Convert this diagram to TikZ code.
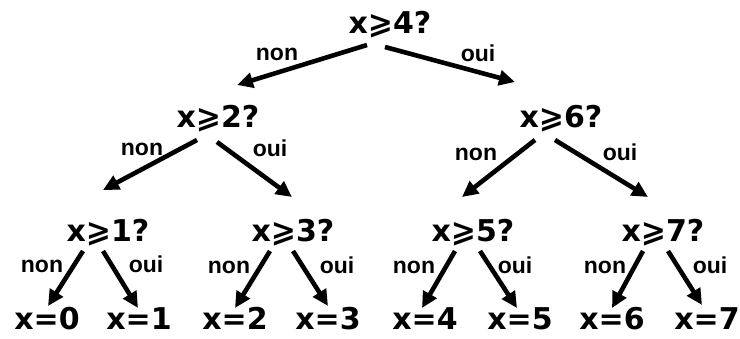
\documentclass[tikz,border=0pt]{standalone}
\usepackage{fontspec}
\newfontfamily\qfont{DejaVu Sans}[BoldFont={DejaVu Sans Bold}]
\newfontfamily\lfont{Liberation Sans}
\usetikzlibrary{arrows.meta}
\begin{document}
\begin{tikzpicture}[x=1pt,y=-1pt,
  q/.style={inner sep=0pt,font=\qfont\bfseries\fontsize{30}{32}\selectfont,text height=21pt,text depth=0pt},
  lab/.style={inner sep=0pt,font=\lfont\bfseries\fontsize{23}{25}\selectfont,text height=12pt,text depth=0pt},
  arr/.style={line width=4.6pt,-{Triangle[length=16pt,width=15pt]}}]
\useasboundingbox (0,0) rectangle (740,338);
% questions
\node[q] (r) at (390,23) {x⩾4?};
\node[q] (n2) at (218,117) {x⩾2?};
\node[q] (n6) at (561,117) {x⩾6?};
\node[q] (n1) at (108,231) {x⩾1?};
\node[q] (n3) at (293,231) {x⩾3?};
\node[q] (n5) at (473,231) {x⩾5?};
\node[q] (n7) at (663,231) {x⩾7?};
% leaves
\node[q] (l0) at (47,319) {x=0};
\node[q] (l1) at (139,319) {x=1};
\node[q] (l2) at (235,319) {x=2};
\node[q] (l3) at (328,319) {x=3};
\node[q] (l4) at (425,319) {x=4};
\node[q] (l5) at (520,319) {x=5};
\node[q] (l6) at (612,319) {x=6};
\node[q] (l7) at (707,319) {x=7};
% labels
\node[lab] (ra) at (277,54) {non};
\node[lab] (rb) at (478,55) {oui};
\node[lab] (a2) at (142,149) {non};
\node[lab] (b2) at (270,150) {oui};
\node[lab] (a6) at (476,154) {non};
\node[lab] (b6) at (620,154) {oui};
\node[lab] (a1) at (42,266) {non};
\node[lab] (b1) at (146,266) {oui};
\node[lab] (a3) at (229,267) {non};
\node[lab] (b3) at (337,267) {oui};
\node[lab] (a5) at (414,267) {non};
\node[lab] (b5) at (515,267) {oui};
\node[lab] (a7) at (605,267) {non};
\node[lab] (b7) at (710,267) {oui};
% arrows
\draw[arr] ([shift={(-23,22)}]r.center) -- ([shift={(19,-32)}]n2.center);
\draw[arr] ([shift={(-5,24)}]r.center) -- ([shift={(-46,-35)}]n6.center);
\draw[arr] ([shift={(-21,23)}]n2.center) -- ([shift={(-5,-41)}]n1.center);
\draw[arr] ([shift={(-1,25)}]n2.center) -- ([shift={(-1,-34)}]n3.center);
\draw[arr] ([shift={(-26,23)}]n6.center) -- ([shift={(-11,-34)}]n5.center);
\draw[arr] ([shift={(-6,23)}]n6.center) -- ([shift={(-15,-34)}]n7.center);
\draw[arr] ([shift={(-25,20)}]n1.center) -- ([shift={(1,-13)}]l0.center);
\draw[arr] ([shift={(-5,20)}]n1.center) -- ([shift={(-1,-11)}]l1.center);
\draw[arr] ([shift={(-23,20)}]n3.center) -- ([shift={(0,-11)}]l2.center);
\draw[arr] ([shift={(0,20)}]n3.center) -- ([shift={(0,-13)}]l3.center);
\draw[arr] ([shift={(-18,20)}]n5.center) -- ([shift={(-3,-11)}]l4.center);
\draw[arr] ([shift={(7,20)}]n5.center) -- ([shift={(-3,-11)}]l5.center);
\draw[arr] ([shift={(-20,20)}]n7.center) -- ([shift={(0,-11)}]l6.center);
\draw[arr] ([shift={(5,20)}]n7.center) -- ([shift={(-5,-14)}]l7.center);
\end{tikzpicture}
\end{document}
